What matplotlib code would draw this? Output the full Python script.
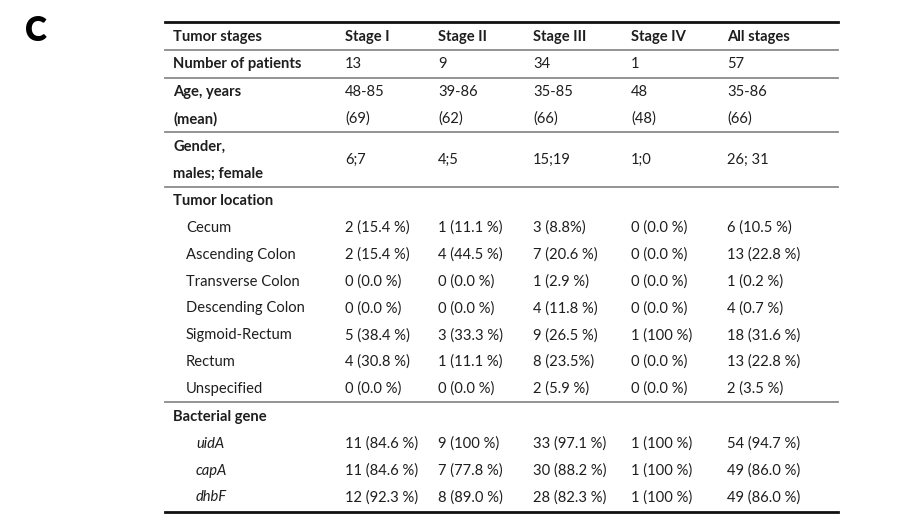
import matplotlib
matplotlib.use("Agg")
import matplotlib.pyplot as plt
from matplotlib.lines import Line2D

plt.rcParams['font.family'] = ['Lato', 'DejaVu Sans']

W, H = 902, 528

stages = ['Tumor stages', 'Stage I', 'Stage II', 'Stage III', 'Stage IV', 'All stages']
n_patients = ['13', '9', '34', '1', '57']
age_range = ['48-85', '39-86', '35-85', '48', '35-86']
age_mean = ['(69)', '(62)', '(66)', '(48)', '(66)']
gender = ['6;7', '4;5', '15;19', '1;0', '26; 31']

locations = ['Cecum', 'Ascending Colon', 'Transverse Colon', 'Descending Colon',
             'Sigmoid-Rectum', 'Rectum', 'Unspecified']
location_values = [
    ['2 (15.4 %)', '1 (11.1 %)', '3 (8.8%)', '0 (0.0 %)', '6 (10.5 %)'],
    ['2 (15.4 %)', '4 (44.5 %)', '7 (20.6 %)', '0 (0.0 %)', '13 (22.8 %)'],
    ['0 (0.0 %)', '0 (0.0 %)', '1 (2.9 %)', '0 (0.0 %)', '1 (0.2 %)'],
    ['0 (0.0 %)', '0 (0.0 %)', '4 (11.8 %)', '0 (0.0 %)', '4 (0.7 %)'],
    ['5 (38.4 %)', '3 (33.3 %)', '9 (26.5 %)', '1 (100 %)', '18 (31.6 %)'],
    ['4 (30.8 %)', '1 (11.1 %)', '8 (23.5%)', '0 (0.0 %)', '13 (22.8 %)'],
    ['0 (0.0 %)', '0 (0.0 %)', '2 (5.9 %)', '0 (0.0 %)', '2 (3.5 %)'],
]

genes = ['uidA', 'capA', 'dhbF']
gene_values = [
    ['11 (84.6 %)', '9 (100 %)', '33 (97.1 %)', '1 (100 %)', '54 (94.7 %)'],
    ['11 (84.6 %)', '7 (77.8 %)', '30 (88.2 %)', '1 (100 %)', '49 (86.0 %)'],
    ['12 (92.3 %)', '8 (89.0 %)', '28 (82.3 %)', '1 (100 %)', '49 (86.0 %)'],
]

col_x = [173, 345, 438, 533, 631, 727]
txt_color = '#1e1e1e'
fs = 10.6

fig = plt.figure(figsize=(W / 100, H / 100), dpi=100)


def put(x, y, s, **kw):
    kw.setdefault('fontsize', fs)
    kw.setdefault('color', txt_color)
    fig.text(x / W, 1 - y / H, s, va='center', ha='left', **kw)


def hline(y, lw, color):
    fig.add_artist(Line2D([165 / W, 838 / W], [1 - y / H, 1 - y / H],
                          lw=lw, color=color, transform=fig.transFigure))


put(25, 31, 'C', fontsize=24, fontweight='heavy', color='black')

# rules
hline(22, 2.0, '#111111')
for y in [50, 78, 132, 187, 402]:
    hline(y, 1.3, '#8a8a8a')
hline(512, 2.0, '#111111')

# header
for x, s in zip(col_x, stages):
    put(x, 37, s, fontweight='bold')

put(col_x[0], 64, 'Number of patients', fontweight='bold')
for x, s in zip(col_x[1:], n_patients):
    put(x, 64, s)

put(col_x[0], 92, 'Age, years', fontweight='bold')
put(col_x[0], 119, '(mean)', fontweight='bold')
for x, a, m in zip(col_x[1:], age_range, age_mean):
    put(x, 92, a)
    put(x, 119, m)

put(col_x[0], 147, 'Gender,', fontweight='bold')
put(col_x[0], 174, 'males; female', fontweight='bold')
for x, s in zip(col_x[1:], gender):
    put(x, 160, s)

put(col_x[0], 201, 'Tumor location', fontweight='bold')
for i, (lab, vals) in enumerate(zip(locations, location_values)):
    y = 228 + i * 26.8
    put(186, y, lab)
    for x, s in zip(col_x[1:], vals):
        put(x, y, s)

put(col_x[0], 417, 'Bacterial gene', fontweight='bold')
for i, (lab, vals) in enumerate(zip(genes, gene_values)):
    y = 444 + i * 26.7
    put(196, y, lab, style='italic')
    for x, s in zip(col_x[1:], vals):
        put(x, y, s)

fig.savefig('out.png', dpi=100, facecolor='white')
